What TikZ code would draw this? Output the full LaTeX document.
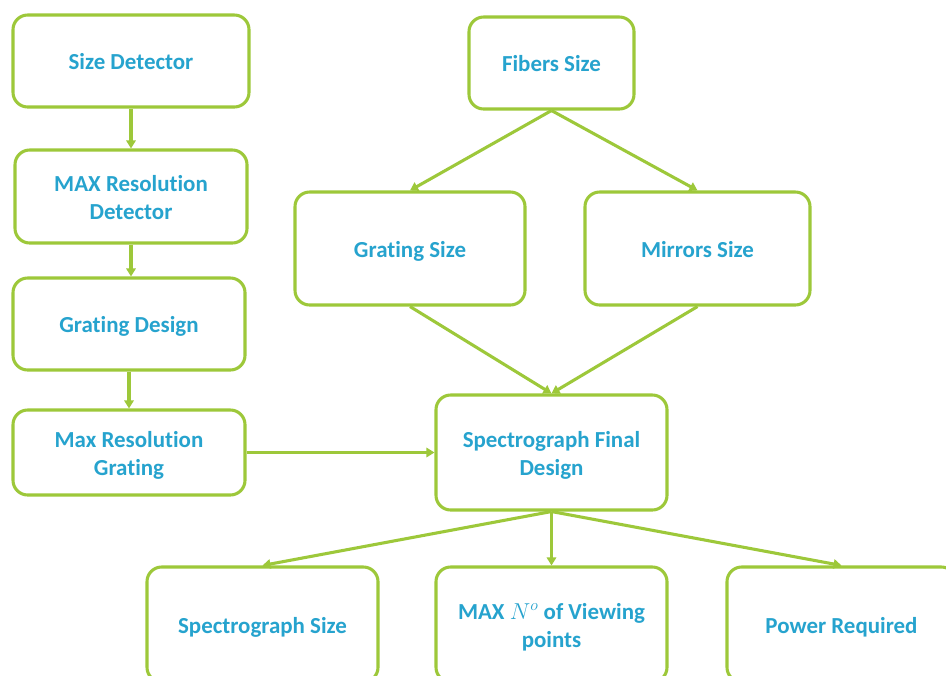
\documentclass[tikz,border=0pt]{standalone}
\usepackage{fontspec}
\setmainfont{Carlito}[Ligatures={NoCommon}]
\usetikzlibrary{arrows.meta}
\definecolor{boxgreen}{RGB}{157,200,58}
\definecolor{txtblue}{RGB}{38,163,206}
\newcommand{\toprule}{\rule[-6.3pt]{0pt}{25.8pt}}
\tikzset{
  box/.style={draw=boxgreen, line width=2.3pt, rounded corners=11pt, fill=white,
    inner sep=0pt, align=center, text=txtblue,
    font=\fontsize{17.2}{21}\selectfont\bfseries,
    execute at begin node={\toprule}, execute at end node={\strut}},
  bsize/.style 2 args={minimum width=#1*0.75pt, minimum height=#2*0.75pt},
  conn/.style={draw=boxgreen, line width=2.3pt,
    -{Triangle[length=6pt,width=7pt]}}
}
\begin{document}
\begin{tikzpicture}[x=0.75pt,y=-0.75pt]
\useasboundingbox (0,0) rectangle (946,675);
\clip (0,0) rectangle (946,675);
\fill[white] (0,0) rectangle (946,675);
% left column
\node[box, bsize={236}{92}] (sd) at (131,61) {Size Detector};
\node[box, bsize={232}{93}] (mrd) at (131,196.5) {\toprule MAX Resolution\\Detector};
\node[box, bsize={232}{92}] (gd) at (129,324) {Grating Design};
\node[box, bsize={232}{85}] (mrg) at (129,452.5) {\toprule Max Resolution\\Grating};
% right part
\node[box, bsize={165}{92}] (fs) at (551.5,63) {Fibers Size};
\node[box, bsize={230}{113}] (gs) at (410,248.5) {Grating Size};
\node[box, bsize={225}{113}] (ms) at (697.5,248.5) {Mirrors Size};
\node[box, bsize={231}{115}] (sfd) at (551.5,452.5) {\toprule Spectrograph Final\\Design};
% bottom row
\node[box, bsize={231}{115}] (ss) at (262.5,624.5) {Spectrograph Size};
\node[box, bsize={231}{115}] (mn) at (551.5,624.5) {\toprule MAX $N^{o}$ of Viewing\\points};
\node[box, bsize={229}{115}] (pr) at (841.5,624.5) {Power Required};
% connectors
\draw[conn] (sd.south) -- (sd.south |- mrd.north);
\draw[conn] (mrd.south) -- (mrd.south |- gd.north);
\draw[conn] (gd.south) -- (gd.south |- mrg.north);
\draw[conn] (mrg.east) -- (sfd.west);
\draw[conn] (fs.south) -- (gs.north);
\draw[conn] (fs.south) -- (ms.north);
\draw[conn] (gs.south) -- (sfd.north);
\draw[conn] (ms.south) -- (sfd.north);
\draw[conn] (sfd.south) -- (ss.north);
\draw[conn] (sfd.south) -- (mn.north);
\draw[conn] (sfd.south) -- (pr.north);
\end{tikzpicture}
\end{document}
